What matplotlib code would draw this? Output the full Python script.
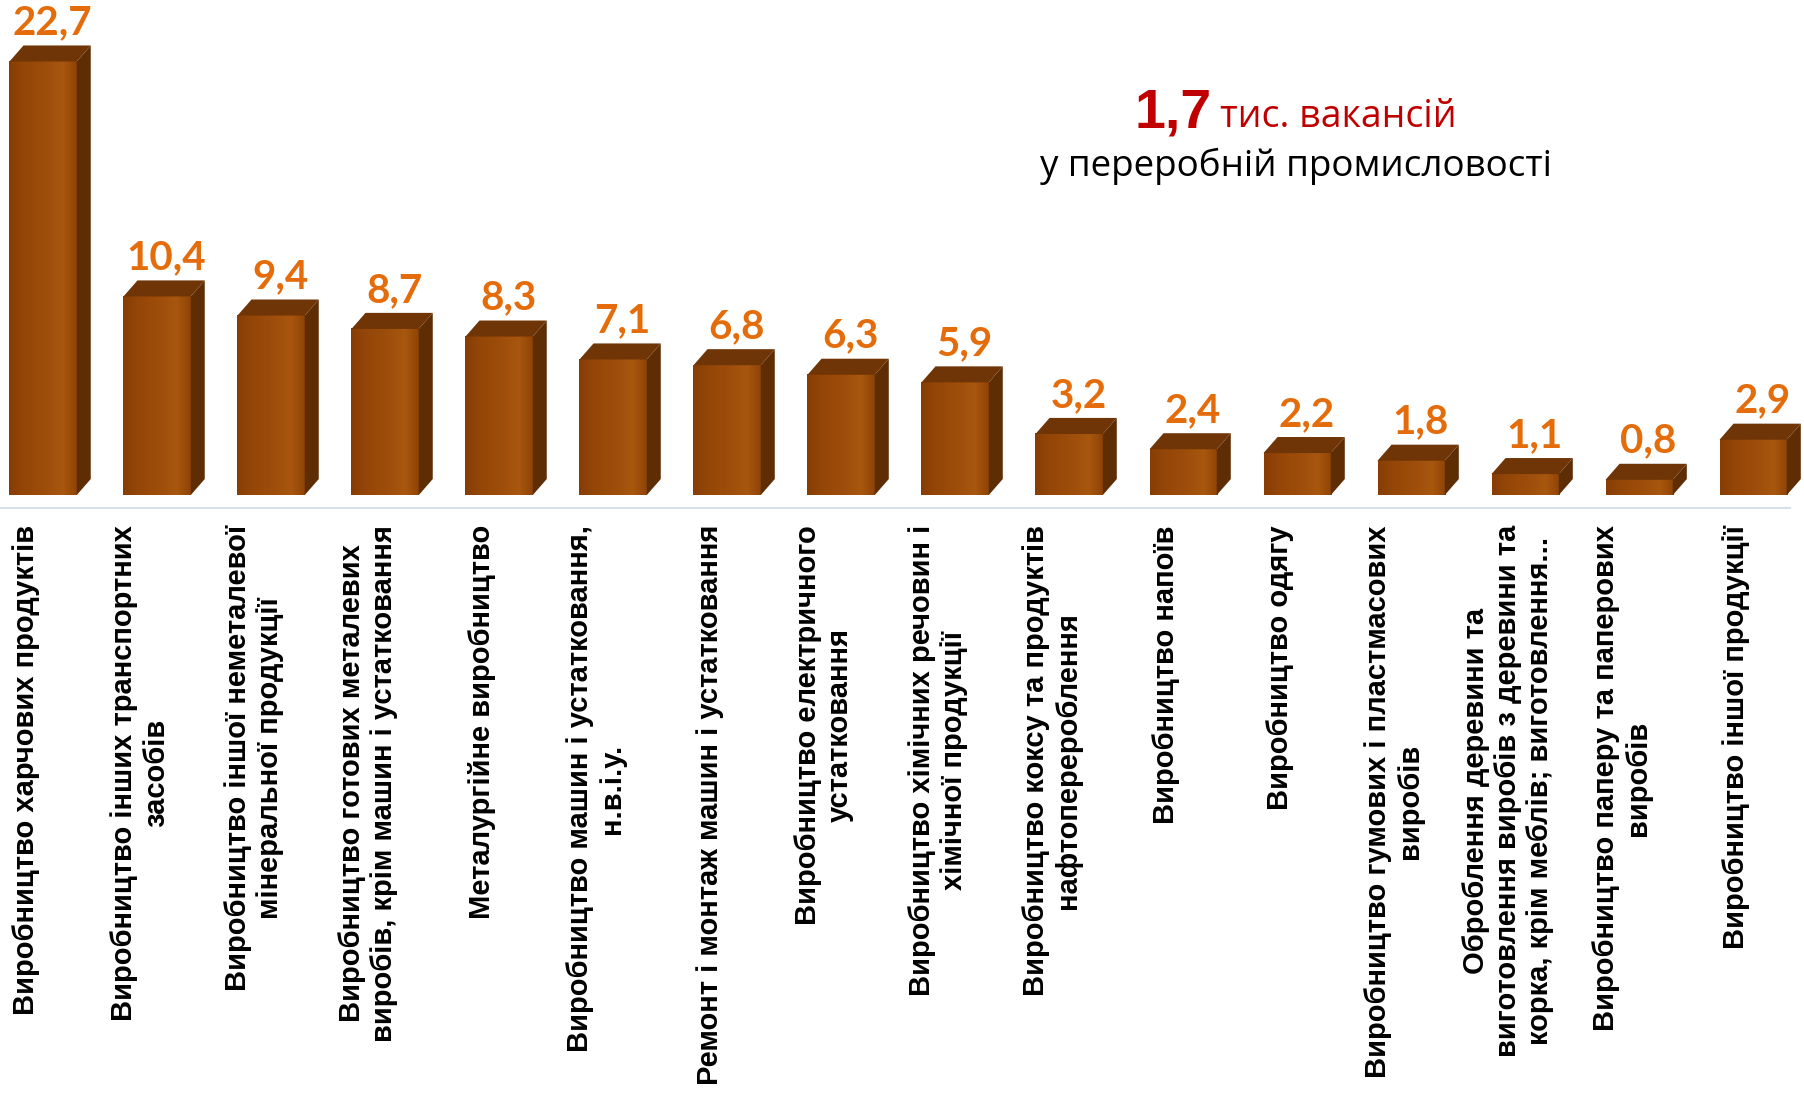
import numpy as np
import matplotlib.pyplot as plt
from matplotlib.patches import Polygon
from matplotlib.colors import LinearSegmentedColormap

# chart data
categories = [
    "Виробництво харчових продуктів",
    "Виробництво інших транспортних\nзасобів",
    "Виробництво іншої неметалевої\nмінеральної продукції",
    "Виробництво готових металевих\nвиробів, крім машин і устатковання",
    "Металургійне виробництво",
    "Виробництво машин і устатковання,\nн.в.і.у.",
    "Ремонт і монтаж машин і устатковання",
    "Виробництво електричного\nустатковання",
    "Виробництво хімічних речовин і\nхімічної продукції",
    "Виробництво коксу та продуктів\nнафтоперероблення",
    "Виробництво напоїв",
    "Виробництво одягу",
    "Виробництво гумових і пластмасових\nвиробів",
    "Оброблення деревини та\nвиготовлення виробів з деревини та\nкорка, крім меблів; виготовлення...",
    "Виробництво паперу та паперових\nвиробів",
    "Виробництво іншої продукції",
]
values = [22.7, 10.4, 9.4, 8.7, 8.3, 7.1, 6.8, 6.3, 5.9, 3.2, 2.4, 2.2, 1.8, 1.1, 0.8, 2.9]

total_value = "1,7"
total_unit = "тис. вакансій"
total_caption = "у переробній промисловості"

# colours
front_cmap = LinearSegmentedColormap.from_list(
    "front", ["#873d05", "#934608", "#9a4a09", "#a0500c", "#a9570f", "#8f4406"])
side_color = "#5e2d04"
top_color = "#6f3506"
label_orange = "#e46c0a"
title_red = "#c00000"

fig = plt.figure(figsize=(18.04, 10.94), dpi=100)
ax = fig.add_axes([0, 0.5347, 1, 0.4653])

x = np.arange(len(values))
shift = 0.15      # bar front centre relative to the category tick
width = 0.59
dx, dy = 0.123, 0.84   # depth of the pseudo-3d bars

grad = np.linspace(0, 1, 64).reshape(1, -1)
for xi, v in zip(x, values):
    x0 = xi + shift - width / 2
    x1 = xi + shift + width / 2
    ax.imshow(grad, cmap=front_cmap, extent=(x0, x1, 0, v), aspect="auto",
              interpolation="bicubic", zorder=2)
    side = Polygon([(x1, 0), (x1 + dx, dy), (x1 + dx, v + dy), (x1, v)],
                   closed=True, facecolor=side_color, edgecolor="none", zorder=2)
    top = Polygon([(x0, v), (x1, v), (x1 + dx, v + dy), (x0 + dx, v + dy)],
                  closed=True, facecolor=top_color, edgecolor="none", zorder=2)
    ax.add_patch(side)
    ax.add_patch(top)
    ax.text(xi + shift + dx / 2 + 0.02, v + dy + 0.58,
            f"{v:.1f}".replace(".", ","), ha="center", va="baseline",
            fontsize=29, fontweight="bold", family=["Lato", "DejaVu Sans"],
            color=label_orange)

ax.set_xlim(-0.228, 15.596)
ax.set_ylim(-0.73, 25.92)
ax.axhline(-0.73, xmin=0, xmax=1789 / 1804, color="#d6e1ef", lw=3, zorder=1)

for s in ax.spines.values():
    s.set_visible(False)
ax.set_yticks([])
ax.set_xticks(x, categories, rotation=90, fontsize=21, fontweight="bold",
              family=["Liberation Sans", "DejaVu Sans"])
ax.tick_params(axis="x", length=0, pad=11.5)

# headline in the top right
fig.text(1212 / 1804, 1 - 127 / 1094, total_value, ha="right", va="baseline",
         fontsize=40, fontweight="bold", family=["Liberation Sans", "DejaVu Sans"],
         color=title_red)
fig.text(1220 / 1804, 1 - 127 / 1094, total_unit, ha="left", va="baseline",
         fontsize=27, family=["Open Sans", "DejaVu Sans"], color=title_red)
fig.text(1296 / 1804, 1 - 176 / 1094, total_caption, ha="center", va="baseline",
         fontsize=26.5, family=["Open Sans", "DejaVu Sans"], color="black")

fig.savefig("out.png", dpi=100)
